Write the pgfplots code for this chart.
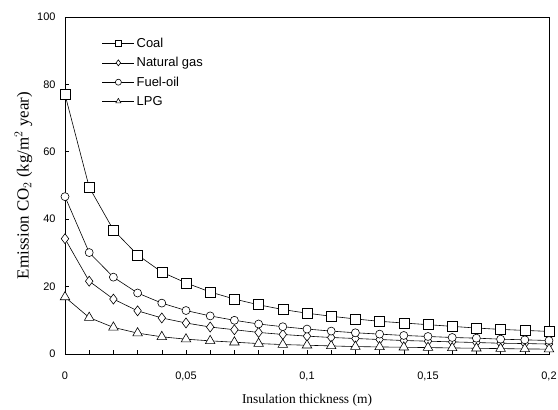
\documentclass[border=0pt]{standalone}
\usepackage{pgfplots}
\pgfplotsset{compat=1.18}
\usepackage{fontspec}
\setmainfont{Liberation Serif}
\newfontfamily\arial{Liberation Sans}
\begin{document}
\begin{tikzpicture}
\path[use as bounding box] (-65bp,-56bp) rectangle (493bp,354bp);
\begin{axis}[
  at={(0,0)}, anchor=south west,
  scale only axis, width=484bp, height=337bp,
  xmin=0, xmax=0.2, ymin=0, ymax=100,
  xtick={0,0.05,0.1,0.15,0.2},
  xticklabels={0,{0,05},{0,1},{0,15},{0,2}},
  minor x tick num=4,
  ytick={0,20,40,60,80,100},
  tick pos=left, tick align=inside,
  major tick length=4bp, minor tick length=4bp,
  every tick/.style={black, line width=0.6pt},
  axis line style={line width=0.7pt},
  /pgf/number format/assume math mode=true,
  ticklabel style={font=\arial\fontsize{11}{13}\selectfont},
  xticklabel style={yshift=-14bp},
  yticklabel style={xshift=-6bp},
  xlabel={Insulation thickness (m)},
  ylabel={Emission CO$_2$ (kg/m$^2$ year)},
  xlabel style={font=\fontsize{13.5}{15}\selectfont, yshift=-7bp},
  ylabel style={font=\fontsize{17}{19}\selectfont, yshift=-2bp},
  legend style={at={(0.07,0.95)}, anchor=north west, draw=none, fill=none,
    font=\arial\fontsize{13}{15}\selectfont, row sep=4.5bp},
  legend cell align=left,
  legend image code/.code={\draw[mark repeat=2,mark phase=2,#1,mark size=3bp] plot coordinates {(0bp,0bp) (16bp,0bp) (32bp,0bp)};},
  every axis plot/.append style={black, line width=0.6pt, mark options={fill=white, solid, line width=0.6pt}},
]
\addplot[mark=square*, mark size=5bp] coordinates {
(0,77) (0.01,49.5) (0.02,36.8) (0.03,29.4) (0.04,24.3) (0.05,21.1) (0.06,18.4)
(0.07,16.3) (0.08,14.6) (0.09,13.2) (0.1,12.1) (0.11,11.2) (0.12,10.4) (0.13,9.7)
(0.14,9.2) (0.15,8.7) (0.16,8.2) (0.17,7.7) (0.18,7.3) (0.19,7.0) (0.2,6.7)};
\addlegendentry{Coal}
\addplot[mark=diamond*, mark size=5bp] coordinates {
(0,34.2) (0.01,21.6) (0.02,16.3) (0.03,12.8) (0.04,10.7) (0.05,9.2) (0.06,8.0)
(0.07,7.2) (0.08,6.4) (0.09,5.8) (0.1,5.3) (0.11,4.9) (0.12,4.6) (0.13,4.3)
(0.14,4.0) (0.15,3.8) (0.16,3.6) (0.17,3.4) (0.18,3.2) (0.19,3.1) (0.2,2.95)};
\addlegendentry{Natural gas}
\addplot[mark=*, mark size=4bp] coordinates {
(0,46.7) (0.01,30.1) (0.02,22.8) (0.03,18.1) (0.04,15.1) (0.05,12.9) (0.06,11.3)
(0.07,10.0) (0.08,8.9) (0.09,8.1) (0.1,7.4) (0.11,6.8) (0.12,6.3) (0.13,5.9)
(0.14,5.5) (0.15,5.2) (0.16,4.9) (0.17,4.7) (0.18,4.4) (0.19,4.2) (0.2,4.0)};
\addlegendentry{Fuel-oil}
\addplot[mark=triangle*, mark size=5.5bp] coordinates {
(0,16.9) (0.01,10.8) (0.02,7.9) (0.03,6.2) (0.04,5.1) (0.05,4.4) (0.06,3.9)
(0.07,3.5) (0.08,3.1) (0.09,2.8) (0.1,2.6) (0.11,2.4) (0.12,2.2) (0.13,2.1)
(0.14,2.0) (0.15,1.9) (0.16,1.8) (0.17,1.7) (0.18,1.6) (0.19,1.5) (0.2,1.45)};
\addlegendentry{LPG}
\end{axis}
\end{tikzpicture}
\end{document}
